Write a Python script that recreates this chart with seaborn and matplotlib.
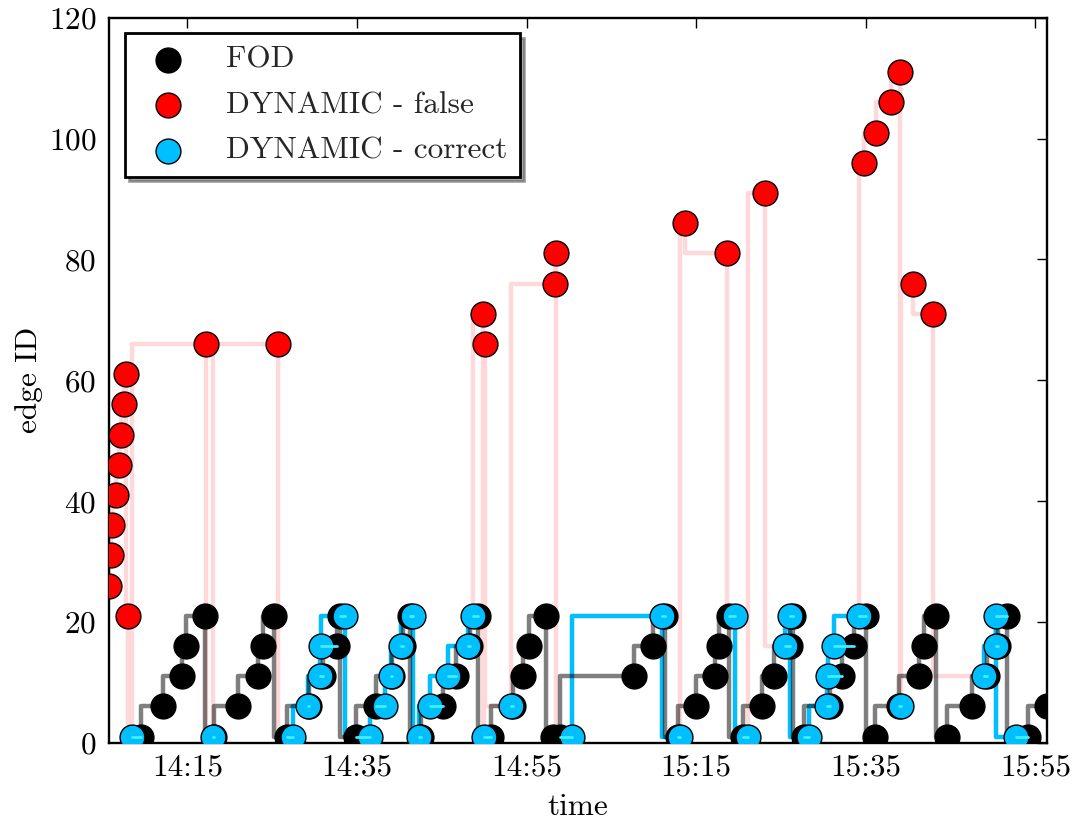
import matplotlib
matplotlib.use('Agg')
import matplotlib.pyplot as plt
import matplotlib.dates as mdates
from matplotlib.ticker import MultipleLocator
import pandas as pd
import seaborn as sns

# FOD edge IDs over time
fod_time = ['14:09:34', '14:12:07', '14:14:18', '14:14:53', '14:17:03', '14:18:10',
            '14:20:58', '14:23:20', '14:23:56', '14:25:11', '14:26:41', '14:29:20',
            '14:31:01', '14:32:35', '14:32:59', '14:34:52', '14:37:14', '14:39:10',
            '14:40:25', '14:41:15', '14:42:35', '14:45:11', '14:46:41', '14:48:20',
            '14:49:19', '14:50:45', '14:53:20', '14:54:37', '14:55:20', '14:57:18',
            '14:58:10', '14:58:57', '15:07:37', '15:09:54', '15:11:21', '15:12:50',
            '15:15:01', '15:17:15', '15:17:39', '15:18:50', '15:20:34', '15:22:46',
            '15:24:08', '15:26:05', '15:26:25', '15:27:40', '15:30:50', '15:32:13',
            '15:33:35', '15:34:58', '15:36:02', '15:38:55', '15:41:16', '15:41:51',
            '15:43:14', '15:44:37', '15:47:34', '15:49:20', '15:50:35', '15:51:41',
            '15:54:04', '15:56:20']
fod_edge = [1, 6, 11, 16, 21, 1,
            6, 11, 16, 21, 1, 6,
            11, 16, 21, 1, 6, 11,
            16, 21, 1, 6, 11, 16,
            21, 1, 6, 11, 16, 21,
            1, 1, 11, 16, 21, 1,
            6, 11, 16, 21, 1, 6,
            11, 16, 21, 1, 6, 11,
            16, 21, 1, 6, 11, 16,
            21, 1, 6, 11, 16, 21,
            1, 6]

# DYNAMIC predictions that were wrong
false_time = ['14:05:45', '14:05:57', '14:06:09', '14:06:37', '14:06:55', '14:07:12',
              '14:07:31', '14:07:48', '14:07:59', '14:17:10', '14:25:42', '14:49:54',
              '14:50:08', '14:58:22', '14:58:29', '15:13:43', '15:18:38', '15:23:10',
              '15:34:46', '15:36:14', '15:37:55', '15:39:01', '15:40:36', '15:42:58']
false_edge = [26, 31, 36, 41, 46, 51,
              56, 61, 21, 66, 66, 71,
              66, 76, 81, 86, 81, 91,
              96, 101, 106, 111, 76, 71]

# DYNAMIC predictions that were right
correct_time = ['14:08:28', '14:18:01', '14:27:28', '14:29:14', '14:30:37', '14:30:42',
                '14:33:34', '14:36:31', '14:38:18', '14:38:57', '14:40:11', '14:41:38',
                '14:42:21', '14:43:36', '14:45:46', '14:48:08', '14:48:43', '14:50:00',
                '14:53:08', '15:00:20', '15:10:58', '15:13:02', '15:19:37', '15:21:05',
                '15:25:31', '15:26:07', '15:28:16', '15:30:26', '15:30:29', '15:31:13',
                '15:34:10', '15:39:06', '15:48:56', '15:50:19', '15:50:22', '15:52:40']
correct_edge = [1, 1, 1, 6, 11, 16,
                21, 1, 6, 11, 16, 21,
                1, 6, 11, 16, 21, 1,
                6, 1, 21, 1, 21, 1,
                16, 21, 1, 6, 11, 16,
                21, 6, 11, 16, 21, 1]

day = '2015-06-01 '
fod = pd.DataFrame({'t': pd.to_datetime([day + t for t in fod_time]), 'edge': fod_edge})
false = pd.DataFrame({'t': pd.to_datetime([day + t for t in false_time]), 'edge': false_edge})
correct = pd.DataFrame({'t': pd.to_datetime([day + t for t in correct_time]), 'edge': correct_edge})
false['correct'] = False
correct['correct'] = True

# full dynamic sequence, and runs of consecutive correct predictions
dyn = pd.concat([false, correct]).sort_values('t').reset_index(drop=True)
dyn['run'] = (~dyn['correct']).cumsum()
runs = dyn[dyn['correct']]

# link each correct prediction to the nearest FOD point on the same edge
pairs = []
for i, row in correct.iterrows():
    same = fod[fod['edge'] == row['edge']]
    j = (same['t'] - row['t']).abs().idxmin()
    pairs.append({'pair': i, 't': row['t'], 'edge': row['edge']})
    pairs.append({'pair': i, 't': fod.loc[j, 't'], 'edge': row['edge']})
pairs = pd.DataFrame(pairs)

sns.set_theme(style='white')
plt.rcParams['font.family'] = ['cmr10', 'DejaVu Serif']
plt.rcParams['axes.formatter.use_mathtext'] = True
fs = 22.5
ms = 320

fig = plt.figure(figsize=(10.76, 8.23), dpi=100)
ax = fig.add_axes([0.1013, 0.0976, 0.8715, 0.8807])

cyan = '#00BFFF'
sns.lineplot(data=dyn, x='t', y='edge', estimator=None, drawstyle='steps-pre',
             color='red', alpha=0.15, lw=3.2, zorder=1.5, legend=False, ax=ax)
sns.lineplot(data=runs, x='t', y='edge', units='run', estimator=None, drawstyle='steps-pre',
             color=cyan, lw=3.2, zorder=2, legend=False, ax=ax)
sns.lineplot(data=fod, x='t', y='edge', estimator=None, drawstyle='steps-pre',
             color='black', alpha=0.5, lw=3.2, zorder=2.5, legend=False, ax=ax)

sns.scatterplot(data=fod, x='t', y='edge', color='black', edgecolor='black', s=ms,
                linewidth=1, label='FOD', zorder=3, ax=ax)
sns.scatterplot(data=false, x='t', y='edge', color='red', edgecolor='black', s=ms,
                linewidth=1, label='DYNAMIC - false', zorder=4, ax=ax)
sns.scatterplot(data=correct, x='t', y='edge', color=cyan, edgecolor='black', s=ms,
                linewidth=1, label='DYNAMIC - correct', zorder=3.5, ax=ax)

sns.lineplot(data=pairs, x='t', y='edge', units='pair', estimator=None,
             color='#40F0FF', lw=2, zorder=5, legend=False, ax=ax)

all_t = pd.concat([fod['t'], dyn['t']])
ax.set_xlim(all_t.min(), all_t.max())
ax.set_ylim(0, 120)
ax.xaxis.set_major_locator(mdates.MinuteLocator(byminute=[15, 35, 55]))
ax.xaxis.set_major_formatter(mdates.DateFormatter('%H:%M'))
ax.yaxis.set_major_locator(MultipleLocator(20))
ax.tick_params(direction='in', length=7, width=1, colors='black', top=True, right=True,
               labelsize=fs)
ax.tick_params(axis='x', pad=8)
ax.tick_params(axis='y', pad=9)
for s in ax.spines.values():
    s.set_linewidth(1.7)
    s.set_color('black')

ax.set_xlabel('time', fontsize=fs, color='black', labelpad=8)
ax.set_ylabel('edge ID', fontsize=fs, color='black')

handles, labels = ax.get_legend_handles_labels()
leg = ax.legend(handles, labels, loc='upper left', fontsize=fs, frameon=True,
                fancybox=False, shadow={'ox': 3, 'oy': -3}, edgecolor='black',
                framealpha=1, borderaxespad=0.5, handletextpad=0.85,
                borderpad=0.4, labelspacing=0.56)
leg.get_frame().set_linewidth(2)

fig.savefig('out.png', dpi=100)
